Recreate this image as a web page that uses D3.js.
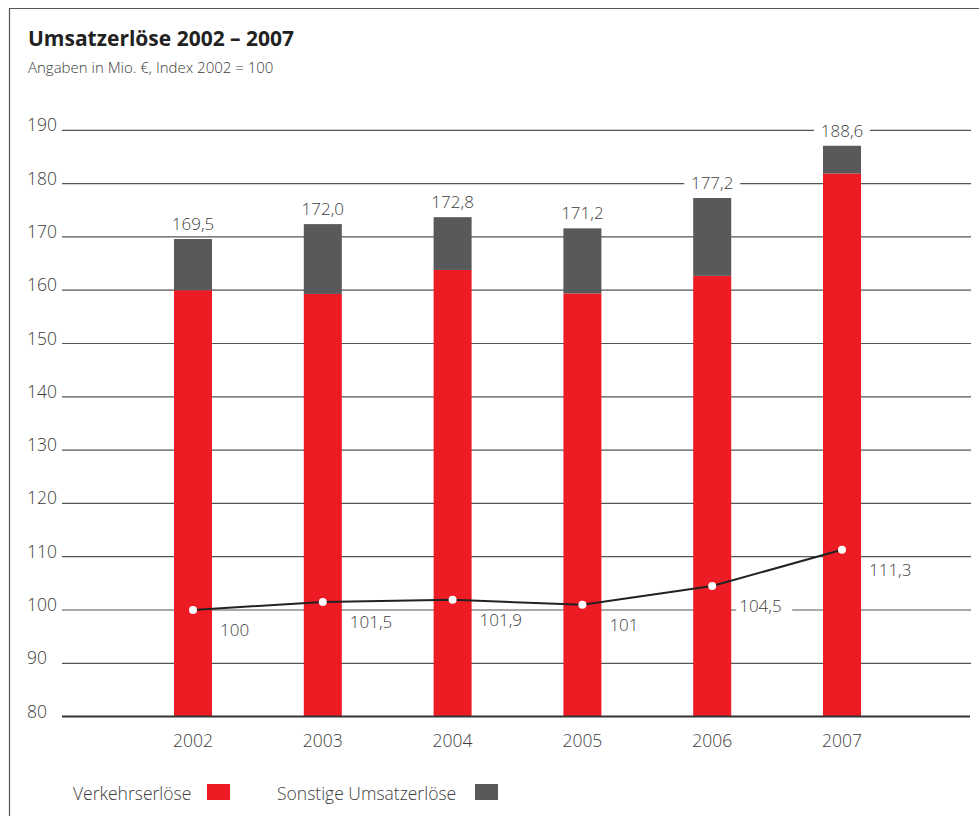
<!DOCTYPE html>
<html>
<head>
<meta charset="utf-8">
<script src="https://cdn.jsdelivr.net/npm/d3@7"></script>
<style>
  body { margin: 0; background: #fff; }
  svg text { font-family: "Open Sans", "Noto Sans", sans-serif; }
</style>
</head>
<body>
<div id="chart"></div>
<script>
// Werte
const years = ["2002", "2003", "2004", "2005", "2006", "2007"];
const verkehrserloese = [160.0, 159.3, 163.8, 159.4, 162.7, 181.9];
const sonstigeErloese = [9.6, 13.1, 9.9, 12.2, 14.6, 5.2];
const totalLabels = ["169,5", "172,0", "172,8", "171,2", "177,2", "188,6"];
const indexValues = [100, 101.5, 101.9, 101, 104.5, 111.3];
const indexLabels = ["100", "101,5", "101,9", "101", "104,5", "111,3"];
const yTicks = [80, 90, 100, 110, 120, 130, 140, 150, 160, 170, 180, 190];

const width = 979;
const height = 816;
const red = "#ed1c24";
const grey = "#58595b";
const textColor = "#3d3d3d";

const svg = d3.select("#chart").append("svg")
    .attr("width", width)
    .attr("height", height);

// Rahmen links und oben
svg.append("path")
    .attr("d", "M9.5,816 V8.5 H979")
    .attr("fill", "none")
    .attr("stroke", "#555")
    .attr("stroke-width", 1.2);

svg.append("text")
    .attr("x", 28).attr("y", 46)
    .attr("font-size", 21)
    .attr("font-weight", 700)
    .attr("fill", "#222")
    .text("Umsatzerlöse 2002 – 2007");

svg.append("text")
    .attr("x", 28).attr("y", 73)
    .attr("font-size", 15)
    .attr("font-weight", 300)
    .attr("fill", textColor)
    .text("Angaben in Mio. €, Index 2002 = 100");

const y = d3.scaleLinear().domain([80, 190]).range([716.6, 130.3]);
const x = d3.scalePoint().domain(years).range([193, 842]);
const barW = 38;

// Gitterlinien
const grid = svg.append("g");
grid.selectAll("line")
    .data(yTicks.filter(d => d > 80))
    .enter().append("line")
    .attr("x1", 62).attr("x2", 971)
    .attr("y1", d => y(d)).attr("y2", d => y(d))
    .attr("stroke", "#555")
    .attr("stroke-width", 1.2);

grid.selectAll("text")
    .data(yTicks)
    .enter().append("text")
    .attr("x", 27)
    .attr("y", d => y(d) + 1)
    .attr("font-size", 17.5)
    .attr("font-weight", 300)
    .attr("fill", textColor)
    .text(d => d);

// Balken
const bars = svg.append("g");
bars.selectAll("rect.v")
    .data(years)
    .enter().append("rect")
    .attr("class", "v")
    .attr("x", d => x(d) - barW / 2)
    .attr("width", barW)
    .attr("y", (d, i) => y(verkehrserloese[i]))
    .attr("height", (d, i) => y(80) - y(verkehrserloese[i]))
    .attr("fill", red);

bars.selectAll("rect.s")
    .data(years)
    .enter().append("rect")
    .attr("class", "s")
    .attr("x", d => x(d) - barW / 2)
    .attr("width", barW)
    .attr("y", (d, i) => y(verkehrserloese[i] + sonstigeErloese[i]))
    .attr("height", (d, i) => y(verkehrserloese[i]) - y(verkehrserloese[i] + sonstigeErloese[i]))
    .attr("fill", grey);

// Summen über den Balken, mit weißem Hintergrund
const totals = svg.append("g")
    .selectAll("g")
    .data(years)
    .enter().append("g")
    .attr("transform", (d, i) => `translate(${x(d)},${y(verkehrserloese[i] + sonstigeErloese[i]) - 9})`);

totals.append("rect")
    .attr("x", -28).attr("y", -15)
    .attr("width", 56).attr("height", 18)
    .attr("fill", "#fff");

totals.append("text")
    .attr("text-anchor", "middle")
    .attr("font-size", 17)
    .attr("font-weight", 300)
    .attr("fill", textColor)
    .text((d, i) => totalLabels[i]);

// Grundlinie
svg.append("line")
    .attr("x1", 62).attr("x2", 970)
    .attr("y1", y(80)).attr("y2", y(80))
    .attr("stroke", "#333")
    .attr("stroke-width", 2);

// Jahre
svg.append("g")
    .selectAll("text")
    .data(years)
    .enter().append("text")
    .attr("x", d => x(d))
    .attr("y", 747)
    .attr("text-anchor", "middle")
    .attr("font-size", 17.5)
    .attr("font-weight", 300)
    .attr("fill", textColor)
    .text(d => d);

// Indexlinie
const line = d3.line()
    .x((d, i) => x(years[i]))
    .y(d => y(d));

svg.append("path")
    .datum(indexValues)
    .attr("d", line)
    .attr("fill", "none")
    .attr("stroke", "#222")
    .attr("stroke-width", 2);

svg.append("g")
    .selectAll("circle")
    .data(indexValues)
    .enter().append("circle")
    .attr("cx", (d, i) => x(years[i]))
    .attr("cy", d => y(d))
    .attr("r", 4)
    .attr("fill", "#fff");

const idx = svg.append("g")
    .selectAll("g")
    .data(indexValues)
    .enter().append("g")
    .attr("transform", (d, i) => `translate(${x(years[i]) + 27},${y(d) + 26})`);

idx.append("rect")
    .attr("x", -3).attr("y", -14)
    .attr("width", (d, i) => indexLabels[i].length * 10 + 6)
    .attr("height", 18)
    .attr("fill", "#fff")
    .attr("fill-opacity", (d, i) => i === 4 ? 1 : 0);

idx.append("text")
    .attr("font-size", 17)
    .attr("font-weight", 300)
    .attr("fill", textColor)
    .text((d, i) => indexLabels[i]);

// Legende
const legend = [
    { label: "Verkehrserlöse", color: red, x: 73, box: 207 },
    { label: "Sonstige Umsatzerlöse", color: grey, x: 277, box: 475 }
];
const lg = svg.append("g")
    .selectAll("g")
    .data(legend)
    .enter().append("g");

lg.append("text")
    .attr("x", d => d.x)
    .attr("y", 800)
    .attr("font-size", 17.5)
    .attr("font-weight", 300)
    .attr("fill", textColor)
    .text(d => d.label);

lg.append("rect")
    .attr("x", d => d.box)
    .attr("y", 784)
    .attr("width", 23)
    .attr("height", 16)
    .attr("fill", d => d.color);
</script>
</body>
</html>
